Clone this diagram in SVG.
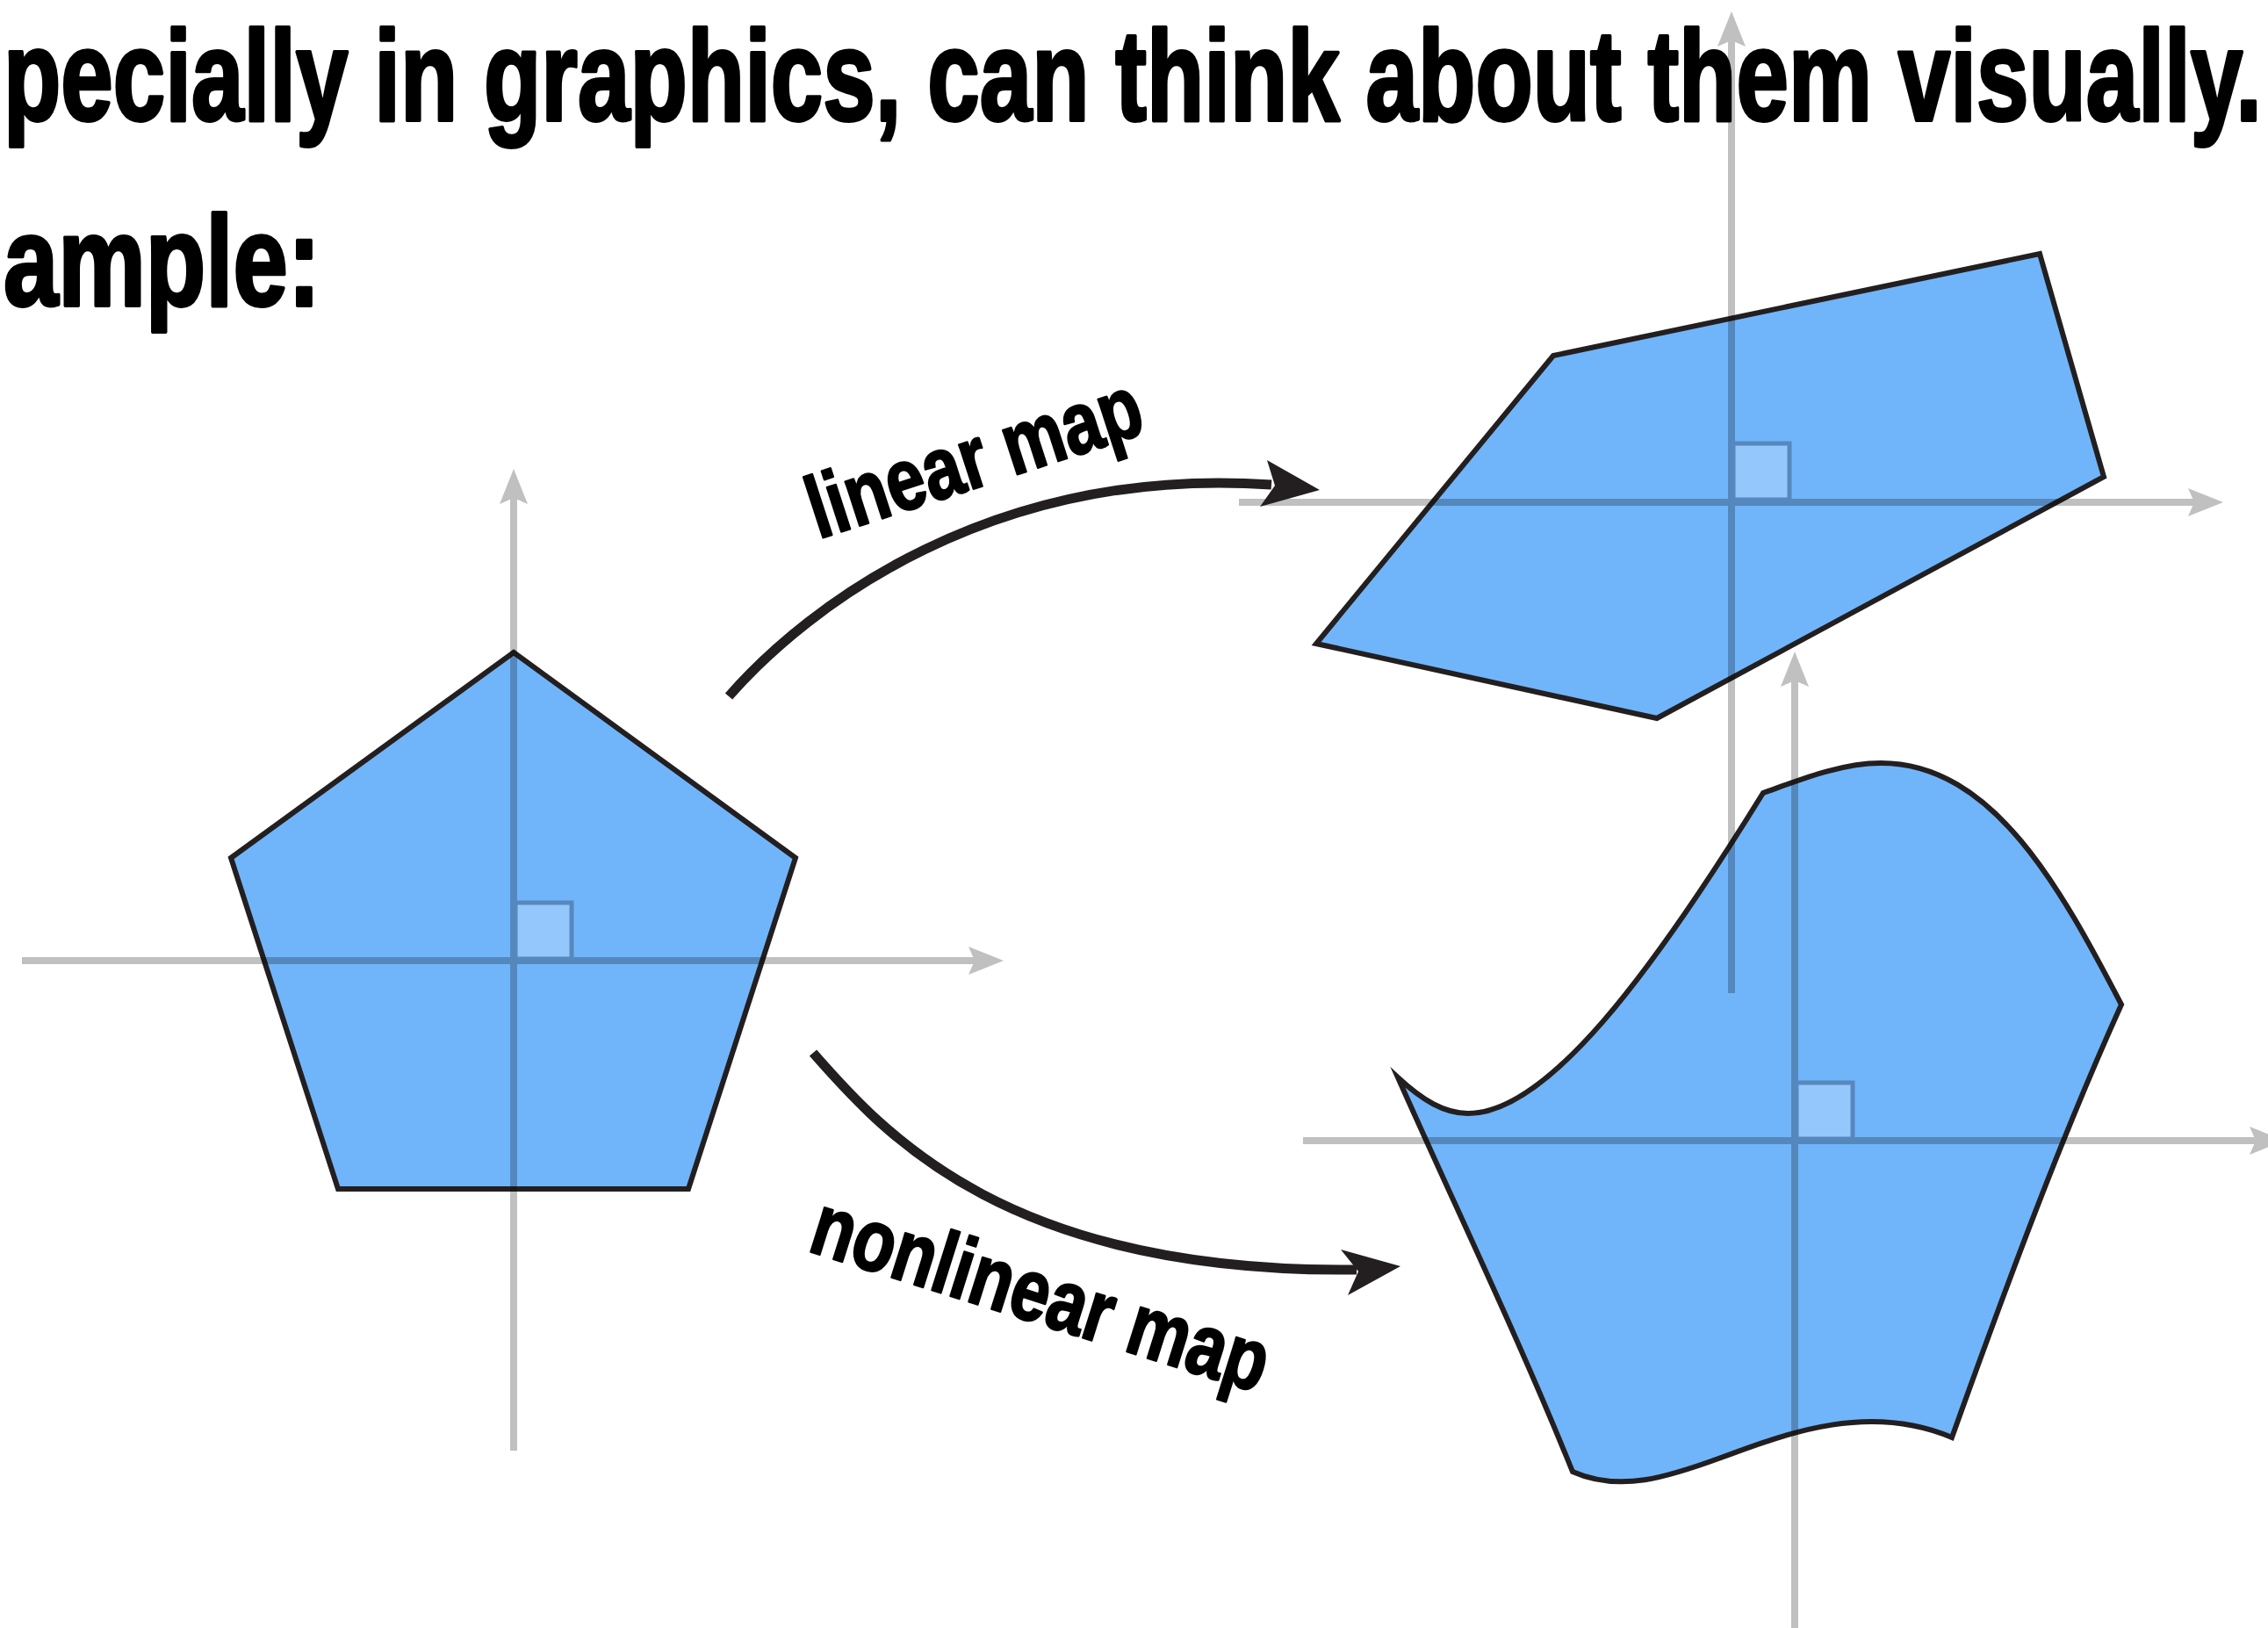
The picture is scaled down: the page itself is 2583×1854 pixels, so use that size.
<svg xmlns="http://www.w3.org/2000/svg" width="2583" height="1854" viewBox="0 0 2583 1854">
<defs>
<style>
.title{font-family:"Liberation Sans",Arial,sans-serif;font-weight:bold;font-size:146px;fill:#000;stroke:#000;stroke-width:4;stroke-linejoin:round}
.lbl{font-family:"Liberation Sans",Arial,sans-serif;font-weight:bold;font-size:100px;fill:#000;stroke:#000;stroke-width:2.5;stroke-linejoin:round}
.shape{fill:#70B5FA;stroke:#231F20;stroke-width:6;stroke-linejoin:miter;stroke-miterlimit:20}
.axes{mix-blend-mode:multiply}
.axis{stroke:#C0C0C0;stroke-width:8;fill:none;marker-end:url(#ah)}
.sq{fill:#94C7FC;stroke:#5688BE;stroke-width:5}
.conn{fill:none;stroke:#231F20;stroke-width:11}
.head{fill:#231F20}
</style>
<marker id="ah" markerUnits="userSpaceOnUse" markerWidth="60" markerHeight="40" viewBox="-12 -20 50 40" refX="0" refY="0" orient="auto" overflow="visible">
<path d="M32,0 L-8,-16 L-1,0 L-8,16 Z" fill="#C0C0C0"/>
</marker>
</defs>
<rect width="2583" height="1854" fill="#fff"/>

<g id="title">
<text class="title" x="4" y="137" textLength="2572" lengthAdjust="spacingAndGlyphs">pecially in graphics, can think about them visually.</text>
<text class="title" x="4" y="348" textLength="361" lengthAdjust="spacingAndGlyphs">ample:</text>
</g>

<g id="pentagon">
<path class="shape" d="M585,743 L906,977 L784,1354 L385,1354 L263,977 Z"/>
</g>
<g id="linear-shape">
<path class="shape" d="M1769,405 L2323,289 L2396,543 L1887,818 L1499,733 Z"/>
</g>
<g id="nonlinear-shape">
<path class="shape" d="M2008,903 C2045,890 2095,869 2142,869 C2270,869 2347,1012 2416,1144 C2350,1290 2290,1450 2223,1637 C2130,1598 2040,1630 1960,1660 C1900,1682 1845,1700 1791,1676 C1730,1525 1660,1380 1592,1227 C1620,1253 1645,1268 1672,1268 C1762,1268 1880,1110 2008,903 Z"/>
</g>

<g id="axes" class="axes">
<line class="axis" x1="585" y1="1652" x2="585" y2="566"/>
<line class="axis" x1="25" y1="1094" x2="1111" y2="1094"/>
<line class="axis" x1="1972" y1="1131" x2="1972" y2="45"/>
<line class="axis" x1="1411" y1="572" x2="2500" y2="572"/>
<line class="axis" x1="2044" y1="1854" x2="2044" y2="774"/>
<line class="axis" x1="1484" y1="1299" x2="2570" y2="1299"/>
</g>

<g id="origin-squares">
<rect class="sq" x="587" y="1028" width="64" height="64"/>
<rect class="sq" x="1974" y="505" width="64" height="64"/>
<rect class="sq" x="2046" y="1233" width="64" height="64"/>
</g>

<g id="connectors">
<path class="conn" d="M830,793 C920,690 1130,530 1448,552"/>
<polygon class="head" points="1443,524 1503,558 1435,577 1452,553"/>
<path class="conn" d="M926,1199 C1010,1295 1150,1450 1545,1446"/>
<polygon class="head" points="1527,1423 1595,1442 1535,1475 1547,1448"/>
</g>

<g id="labels">
<text class="lbl" transform="translate(932,614) rotate(-18)" textLength="395" lengthAdjust="spacingAndGlyphs">linear map</text>
<text class="lbl" transform="translate(918,1424) rotate(17.5)" textLength="540" lengthAdjust="spacingAndGlyphs">nonlinear map</text>
</g>
</svg>
